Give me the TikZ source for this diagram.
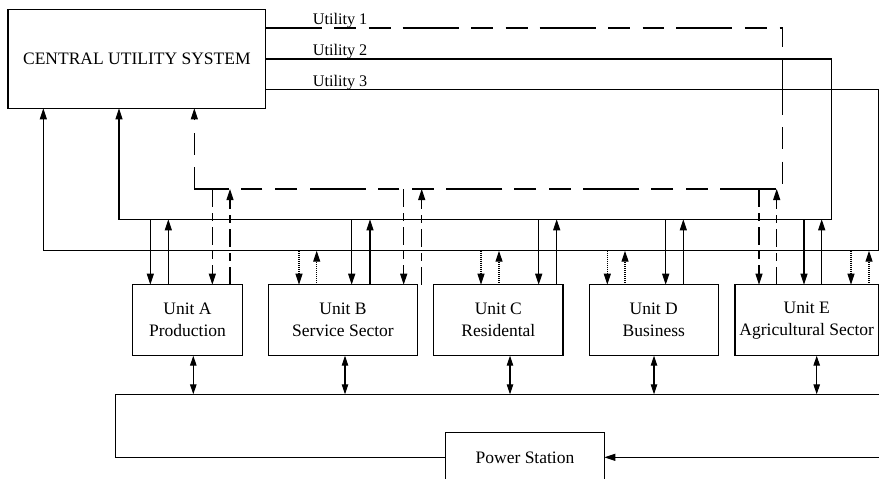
\documentclass[tikz,border=0pt]{standalone}
\usepackage{fontspec}
\setmainfont{Liberation Serif}
\usetikzlibrary{arrows.meta}
\begin{document}
\begin{tikzpicture}[x=1pt,y=-1pt, line width=1.05pt,
  box/.style={draw, rectangle, inner sep=0pt, outer sep=0pt, align=center,
    font=\fontsize{17.5}{22}\selectfont},
  tip/.style={-{Triangle[length=11pt,width=7pt]}},
  dtip/.style={{Triangle[length=10pt,width=6.5pt]}-{Triangle[length=10pt,width=6.5pt]}},
  bigdash/.style={dash pattern=on 56pt off 12.5pt on 21.8pt off 12.8pt on 21.8pt off 12pt},
  smalldash/.style={dash pattern=on 18pt off 6pt on 8pt off 6pt},
  dots/.style={dash pattern=on 1pt off 1pt},
  lab/.style={font=\fontsize{16.2}{19}\selectfont, anchor=base west, inner sep=0pt}]

\useasboundingbox (0,0) rectangle (879,479);
\clip (0,0) rectangle (879,479);

% nodes
\node[box, minimum width=257.7pt, minimum height=99pt] (cus) at (136.85,58.8) {CENTRAL UTILITY SYSTEM};
\node[box, minimum width=109.6pt, minimum height=71pt] (uA) at (187.5,320.2) {Unit A\\Production};
\node[box, minimum width=148.6pt, minimum height=71pt] (uB) at (343,320.2) {Unit B\\Service Sector};
\node[box, minimum width=129.3pt, minimum height=71pt] (uC) at (498.35,320.2) {Unit C\\Residental};
\node[box, minimum width=129pt, minimum height=71pt] (uD) at (653.8,320.2) {Unit D\\Business};
\node[box, minimum width=143.5pt, minimum height=71pt] (uE) at (806.75,320.2) {Unit E\\Agricultural Sector};
\node[box, minimum width=158.6pt, minimum height=50pt] (ps) at (525,457.3) {Power Station};

% utility labels
\node[lab] (l1) at (312.3,24.3) {Utility 1};
\node[lab] (l2) at (312.3,55) {Utility 2};
\node[lab] (l3) at (312.3,86) {Utility 3};

% utility buses
\coordinate (u1r) at (782.7,28);  \coordinate (u1b) at (782.7,189);  \coordinate (u1l) at (194.3,189);
\coordinate (u2r) at (831.7,59);  \coordinate (u2b) at (831.7,219.3);\coordinate (u2l) at (119,219.3);
\coordinate (u3r) at (878.3,89.7);\coordinate (u3b) at (878.3,250.7);\coordinate (u3l) at (43.3,250.7);

\draw[bigdash, tip] (cus.east |- u1r) -- (u1r) -- (u1b) -- (u1l) -- (u1l |- cus.south);
\draw[tip] (cus.east |- u2r) -- (u2r) -- (u2b) -- (u2l) -- (u2l |- cus.south);
\draw[tip] (cus.east |- u3r) -- (u3r) -- (u3b) -- (u3l) -- (u3l |- cus.south);

% solid (utility 2) connections
\foreach \x/\u in {150.3/uA,351.7/uB,538.7/uC,665.7/uD,804/uE}
  \draw[tip] (\x,219.3) -- (\x,0 |- \u.north);
\foreach \x/\u in {168.3/uA,370/uB,556.7/uC,683.3/uD,821.7/uE}
  \draw[tip] (\x,0 |- \u.north) -- (\x,219.3);

% dotted (utility 3) connections
\foreach \x/\u in {299/uB,481/uC,607.3/uD,851/uE}
  \draw[dots,tip] (\x,250.7) -- (\x,0 |- \u.north);
\foreach \x/\u in {316.7/uB,499/uC,625/uD,869/uE}
  \draw[dots,tip] (\x,0 |- \u.north) -- (\x,250.7);

% dashed (utility 1) connections
\foreach \x/\u in {212.3/uA,403.7/uB,759/uE}
  \draw[smalldash,tip] (\x,189) -- (\x,0 |- \u.north);
\foreach \x/\u in {230/uA,776.7/uE}
  \draw[smalldash,tip] (\x,0 |- \u.north) -- (\x,189);
\coordinate (fB) at (421.7,284.7);
\draw[smalldash,tip] (fB) -- (fB |- u1l);

% power bus
\coordinate (bl) at (115.7,394.3);
\coordinate (br) at (880,394.3);
\coordinate (pin) at (880,457.3);
\draw (br) -- (bl) -- (bl |- ps.west) -- (ps.west);
\draw[tip] (pin) -- (ps.east);
\foreach \x/\u in {193.3/uA,345/uB,510/uC,654/uD,816.7/uE}
  \draw[dtip] (\x,0 |- \u.south) -- (\x,394.3);
\end{tikzpicture}
\end{document}
